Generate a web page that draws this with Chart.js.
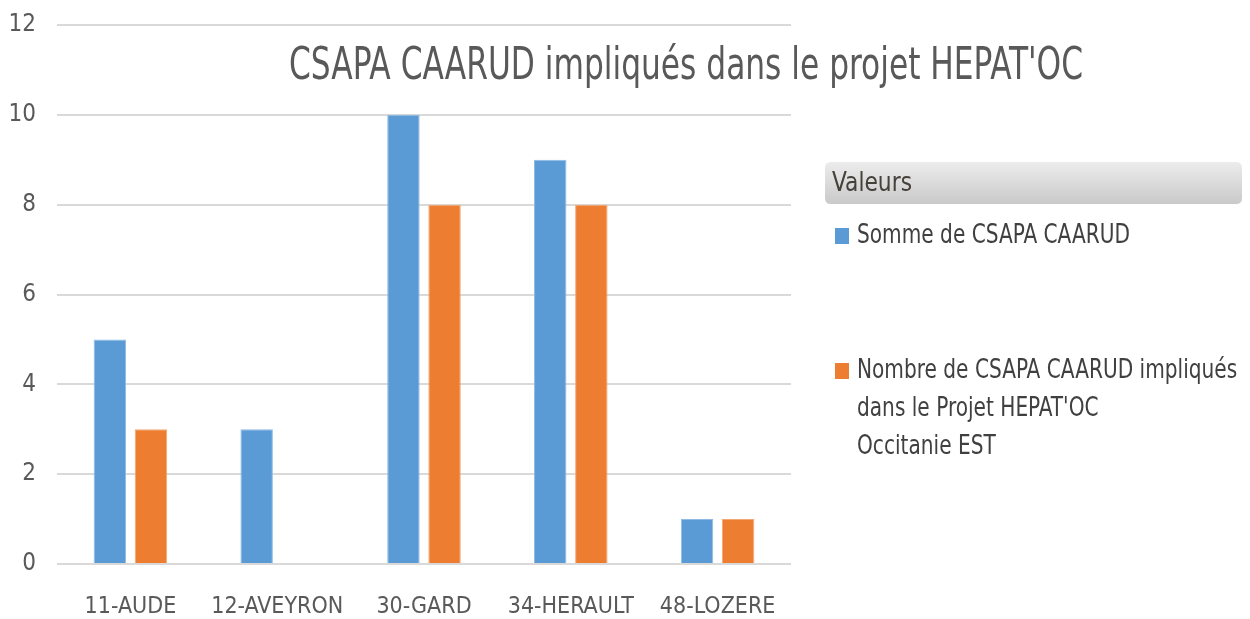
<!DOCTYPE html>
<html>
<head>
<meta charset="utf-8">
<script src="https://cdn.jsdelivr.net/npm/chart.js@4/dist/chart.umd.min.js"></script>
<style>
html,body{margin:0;padding:0;background:#fff;}
#wrap{width:1250px;height:619px;position:relative;}
</style>
</head>
<body>
<div id="wrap"><canvas id="c" width="1250" height="619"></canvas></div>
<script>
const categories = ["11-AUDE", "12-AVEYRON", "30-GARD", "34-HERAULT", "48-LOZERE"];
const sommeCsapa = [5, 3, 10, 9, 1];
const nombreImpliques = [3, 0, 8, 8, 1];
const seriesLabels = ["Somme de CSAPA CAARUD", "Nombre de CSAPA CAARUD impliqués dans le Projet HEPAT'OC Occitanie EST"];
const legendLines = [["Somme de CSAPA CAARUD"], ["Nombre de CSAPA CAARUD impliqués", "dans le Projet HEPAT'OC", "Occitanie EST"]];
const chartTitle = "CSAPA CAARUD impliqués dans le projet HEPAT'OC";
const legendHeader = "Valeurs";

const FONT = '"Liberation Sans Narrow", "DejaVu Sans Condensed", "Liberation Sans", sans-serif';
const TXT = '#595959';

const overlay = {
  id: 'overlay',
  afterDraw(chart) {
    const ctx = chart.ctx;
    ctx.save();
    // title
    ctx.fillStyle = TXT;
    ctx.font = '44px ' + FONT;
    ctx.textAlign = 'center';
    ctx.textBaseline = 'middle';
    ctx.fillText(chartTitle, 686, 68, 794);

    // legend header box
    const bx = 825, by = 162, bw = 417, bh = 42, r = 6;
    const g = ctx.createLinearGradient(0, by, 0, by + bh);
    g.addColorStop(0, '#ececec');
    g.addColorStop(1, '#c9c9c9');
    ctx.fillStyle = g;
    ctx.beginPath();
    ctx.moveTo(bx + r, by);
    ctx.lineTo(bx + bw - r, by);
    ctx.quadraticCurveTo(bx + bw, by, bx + bw, by + r);
    ctx.lineTo(bx + bw, by + bh - r);
    ctx.quadraticCurveTo(bx + bw, by + bh, bx + bw - r, by + bh);
    ctx.lineTo(bx + r, by + bh);
    ctx.quadraticCurveTo(bx, by + bh, bx, by + bh - r);
    ctx.lineTo(bx, by + r);
    ctx.quadraticCurveTo(bx, by, bx + r, by);
    ctx.closePath();
    ctx.fill();
    ctx.fillStyle = '#45403a';
    ctx.font = '26px ' + FONT;
    ctx.textAlign = 'left';
    ctx.fillText(legendHeader, 832, 184, 80);

    // legend items: all lines share one horizontal compression
    ctx.font = '26px ' + FONT;
    const k = Math.min(1, 273 / ctx.measureText(legendLines[0][0]).width);
    const ys = [236, 371];
    chart.data.datasets.forEach((ds, i) => {
      ctx.fillStyle = ds.backgroundColor;
      ctx.fillRect(835, ys[i] - 8, 14, 16);
      ctx.fillStyle = '#404040';
      legendLines[i].forEach((line, j) => {
        const w = ctx.measureText(line).width * k;
        ctx.fillText(line, 857, ys[i] + j * 38, w);
      });
    });
    ctx.restore();
  }
};

new Chart(document.getElementById('c'), {
  type: 'bar',
  data: {
    labels: categories,
    datasets: [
      { label: seriesLabels[0], data: sommeCsapa, backgroundColor: '#5b9bd5', borderColor: '#8dbbe5', borderWidth: 1, categoryPercentage: 0.56, barPercentage: 0.79 },
      { label: seriesLabels[1], data: nombreImpliques, backgroundColor: '#ed7d31', borderColor: '#f3a874', borderWidth: 1, categoryPercentage: 0.56, barPercentage: 0.79 }
    ]
  },
  options: {
    responsive: false,
    animation: false,
    layout: { padding: { top: 25, right: 459, bottom: 0, left: 0 } },
    plugins: { legend: { display: false }, title: { display: false }, tooltip: { enabled: false } },
    scales: {
      x: {
        grid: { display: false, drawTicks: false },
        border: { display: false },
        ticks: { color: TXT, font: { family: FONT, size: 23 }, padding: 29, maxRotation: 0, autoSkip: false },
        afterFit(scale) { scale.height = 55; scale.paddingLeft = 0; scale.paddingRight = 0; }
      },
      y: {
        min: 0, max: 12,
        ticks: { stepSize: 2, color: TXT, font: { family: FONT, size: 24 }, padding: 21 },
        grid: { color: '#d9d9d9', lineWidth: 2, drawTicks: false },
        border: { display: false },
        afterFit(scale) { scale.width = 57; scale.paddingTop = 0; scale.paddingBottom = 0; }
      }
    }
  },
  plugins: [overlay]
});
</script>
</body>
</html>
